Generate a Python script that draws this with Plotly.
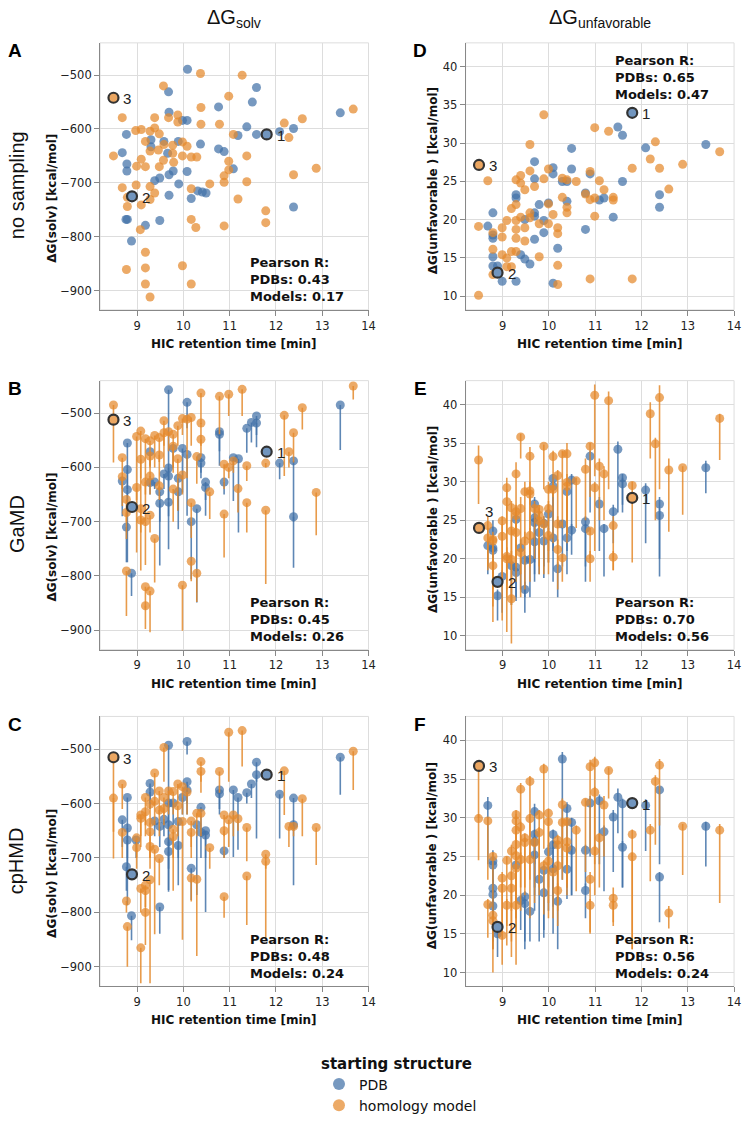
import plotly.graph_objects as go
from plotly.subplots import make_subplots

W, H = 747, 1121
BLUE = "#4272a8"
ORANGE = "#e4892c"
BLUE_LINE = "rgba(66,114,168,0.85)"
ORANGE_LINE = "rgba(228,137,44,0.85)"
BLUE_SOLID = "#7195be"
ORANGE_SOLID = "#eba661"

x_ticks = [9, 10, 11, 12, 13, 14]
solv_ticks = [-900, -800, -700, -600, -500]
unfav_ticks = [10, 15, 20, 25, 30, 35, 40]

# highlighted antibodies 1, 2, 3
hl_labels = ["1", "2", "3"]
hl_x = [11.8, 8.89, 8.49]

# ---- A: no sampling, dG solv  (x, y)
A_pdb = [(10.09, -489), (9.68, -531), (9.69, -569), (10.08, -584), (9.98, -584), (10.76, -559),
         (11.49, -550), (11.58, -523), (11.37, -596), (11.58, -610), (11.18, -612), (12.08, -605),
         (12.38, -599), (13.39, -570), (8.77, -610), (8.68, -644), (8.78, -665), (8.78, -678),
         (9.30, -620), (9.30, -633), (9.58, -623), (9.66, -645), (9.69, -685), (9.78, -678),
         (9.38, -696), (9.49, -691), (9.89, -623), (9.90, -702), (9.69, -723), (10.08, -679),
         (10.37, -628), (10.76, -637), (10.88, -642), (11.08, -674), (10.17, -729), (10.31, -715),
         (10.41, -717), (10.49, -719), (8.79, -768), (8.76, -768), (8.88, -808), (9.18, -779),
         (9.49, -770), (12.38, -745)]
A_model = [(8.49, -650), (8.68, -579), (8.68, -709), (8.79, -727), (8.79, -744), (8.77, -861),
           (8.99, -669), (8.98, -704), (8.97, -603), (9.09, -601), (9.09, -656), (9.09, -741),
           (9.07, -787), (9.18, -623), (9.18, -670), (9.18, -829), (9.18, -858), (9.18, -888),
           (9.28, -912), (9.28, -707), (9.28, -731), (9.28, -604), (9.28, -641), (9.38, -598),
           (9.38, -579), (9.48, -609), (9.57, -520), (9.46, -639), (9.48, -670), (9.57, -658),
           (9.38, -719), (9.58, -629), (9.68, -579), (9.77, -630), (9.77, -645), (9.79, -662),
           (9.88, -574), (9.88, -587), (9.98, -624), (10.08, -632), (9.98, -650), (9.98, -854),
           (10.17, -711), (10.17, -768), (10.17, -888), (10.27, -783), (10.17, -652), (10.29, -652),
           (10.37, -497), (10.38, -560), (10.38, -591), (10.57, -702), (10.78, -591), (10.88, -687),
           (10.88, -699), (10.88, -780), (10.98, -660), (10.98, -676), (10.98, -539), (11.08, -610),
           (11.18, -730), (11.27, -500), (11.37, -650), (11.37, -698), (11.78, -752), (11.78, -774),
           (12.18, -589), (12.28, -616), (12.38, -685), (12.57, -581), (12.87, -673), (13.67, -563)]
A_hl_y = [-610, -725, -542]

# ---- B: GaMD, dG solv  (x, y, low, high)
B_pdb = [(9.68, -457, -616, -457), (10.08, -480, -528, -480), (8.79, -555, -775, -555),
         (8.79, -604, -640, -604), (8.79, -641, -690, -641), (8.68, -625, -690, -625),
         (8.77, -710, -775, -710), (8.88, -795, -837, -795), (9.28, -571, -597, -571),
         (9.28, -628, -650, -628), (9.38, -627, -640, -627), (9.49, -645, -781, -645),
         (9.49, -666, -700, -666), (9.58, -612, -640, -612), (9.68, -601, -751, -601),
         (9.68, -664, -690, -664), (9.68, -616, -660, -616), (9.78, -565, -600, -565),
         (9.89, -620, -714, -620), (9.89, -645, -680, -645), (9.98, -565, -646, -565),
         (10.08, -576, -689, -576), (10.17, -700, -806, -700), (10.29, -676, -849, -676),
         (10.38, -582, -610, -582), (10.38, -592, -620, -592), (10.48, -627, -689, -627),
         (10.48, -637, -660, -637), (10.78, -534, -597, -534), (10.78, -539, -570, -539),
         (10.88, -627, -650, -627), (11.08, -582, -662, -582), (11.19, -584, -720, -584),
         (11.37, -528, -573, -528), (11.47, -517, -554, -517), (11.58, -505, -563, -505),
         (11.58, -518, -540, -518), (12.08, -592, -622, -592), (12.38, -588, -785, -588),
         (12.38, -691, -700, -691), (13.39, -485, -568, -485)]
B_model = [(8.49, -485, -591, -485), (8.68, -582, -671, -582), (8.68, -617, -640, -617),
           (8.77, -659, -732, -659), (8.77, -683, -700, -683), (8.77, -791, -874, -791),
           (8.99, -543, -757, -543), (8.99, -637, -660, -637), (9.08, -533, -790, -533),
           (9.08, -585, -620, -585), (9.08, -676, -700, -676), (9.08, -697, -720, -697),
           (9.18, -547, -700, -547), (9.18, -627, -650, -627), (9.18, -700, -780, -700),
           (9.18, -820, -860, -820), (9.18, -855, -898, -855), (9.28, -551, -600, -551),
           (9.28, -579, -620, -579), (9.28, -616, -650, -616), (9.28, -688, -720, -688),
           (9.28, -828, -904, -828), (9.38, -541, -600, -541), (9.38, -731, -812, -731),
           (9.48, -545, -590, -545), (9.48, -577, -640, -577), (9.48, -634, -660, -634),
           (9.58, -514, -560, -514), (9.58, -536, -600, -536), (9.68, -534, -570, -534),
           (9.78, -539, -600, -539), (9.78, -561, -610, -561), (9.78, -640, -700, -640),
           (9.88, -523, -560, -523), (9.88, -584, -680, -584), (9.98, -510, -540, -510),
           (9.98, -614, -650, -614), (9.98, -817, -901, -817), (10.08, -511, -620, -511),
           (10.17, -508, -560, -508), (10.17, -665, -730, -665), (10.17, -773, -810, -773),
           (10.29, -795, -848, -795), (10.29, -580, -630, -580), (10.38, -463, -520, -463),
           (10.38, -518, -560, -518), (10.38, -548, -580, -548), (10.57, -645, -695, -645),
           (10.78, -469, -539, -469), (10.88, -594, -640, -594), (10.88, -686, -766, -686),
           (10.98, -465, -505, -465), (10.98, -600, -620, -600), (11.08, -588, -610, -588),
           (11.18, -639, -683, -639), (11.27, -456, -505, -456), (11.37, -597, -625, -597),
           (11.37, -665, -720, -665), (11.78, -592, -600, -592), (11.78, -679, -815, -679),
           (12.18, -504, -616, -504), (12.28, -571, -600, -571), (12.38, -536, -591, -536),
           (12.57, -490, -530, -490), (12.87, -646, -725, -646), (13.67, -450, -475, -450)]
B_hl_y = [-571, -673, -512]

# ---- C: cpHMD, dG solv  (x, y, low, high)
C_pdb = [(9.68, -493, -762, -493), (10.08, -486, -510, -486), (8.68, -630, -680, -630),
         (8.79, -589, -787, -589), (8.79, -645, -700, -645), (8.79, -667, -720, -667),
         (8.77, -716, -760, -716), (8.88, -806, -851, -806), (8.98, -667, -700, -667),
         (9.28, -563, -600, -563), (9.28, -579, -610, -579), (9.38, -632, -660, -632),
         (9.49, -642, -680, -642), (9.49, -790, -839, -790), (9.58, -629, -660, -629),
         (9.68, -599, -640, -599), (9.68, -639, -680, -639), (9.68, -670, -759, -670),
         (9.68, -688, -720, -688), (9.78, -599, -640, -599), (9.89, -633, -700, -633),
         (9.89, -677, -750, -677), (9.98, -589, -620, -589), (10.08, -560, -600, -560),
         (10.08, -575, -620, -575), (10.17, -719, -777, -719), (10.29, -639, -768, -639),
         (10.38, -607, -660, -607), (10.38, -653, -700, -653), (10.48, -650, -799, -650),
         (10.48, -658, -700, -658), (10.78, -575, -610, -575), (10.78, -582, -620, -582),
         (10.88, -687, -700, -687), (11.08, -575, -698, -575), (11.18, -589, -685, -589),
         (11.37, -580, -600, -580), (11.47, -564, -590, -564), (11.58, -524, -560, -524),
         (11.58, -547, -664, -547), (12.08, -583, -664, -583), (12.38, -590, -750, -590),
         (12.38, -639, -650, -639), (13.39, -515, -584, -515)]
C_model = [(8.49, -590, -701, -590), (8.49, -515, -652, -515), (8.68, -564, -610, -564),
           (8.68, -653, -700, -653), (8.77, -779, -800, -779), (8.79, -826, -900, -826),
           (8.99, -663, -720, -663), (8.99, -681, -700, -681), (9.08, -621, -660, -621),
           (9.08, -627, -680, -627), (9.08, -756, -800, -756), (9.18, -589, -640, -589),
           (9.18, -615, -660, -615), (9.18, -760, -800, -760), (9.18, -800, -860, -800),
           (9.18, -750, -790, -750), (9.08, -865, -930, -865), (9.28, -635, -700, -635),
           (9.28, -652, -700, -652), (9.28, -679, -720, -679), (9.28, -601, -640, -601),
           (9.28, -740, -930, -740), (9.38, -544, -600, -544), (9.38, -596, -640, -596),
           (9.38, -684, -840, -684), (9.48, -577, -620, -577), (9.48, -612, -660, -612),
           (9.48, -701, -750, -701), (9.58, -497, -560, -497), (9.58, -589, -620, -589),
           (9.58, -609, -640, -609), (9.68, -577, -620, -577), (9.78, -578, -620, -578),
           (9.78, -647, -760, -647), (9.78, -661, -700, -661), (9.88, -564, -600, -564),
           (9.88, -604, -660, -604), (9.98, -569, -620, -569), (9.98, -633, -850, -633),
           (10.08, -579, -620, -579), (10.17, -632, -680, -632), (10.17, -653, -700, -653),
           (10.17, -737, -780, -737), (10.29, -739, -880, -739), (10.29, -618, -660, -618),
           (10.38, -618, -660, -618), (10.38, -523, -560, -523), (10.38, -541, -580, -541),
           (10.57, -681, -720, -681), (10.78, -541, -580, -541), (10.88, -621, -660, -621),
           (10.88, -650, -700, -650), (10.88, -771, -810, -771), (10.98, -469, -560, -469),
           (10.98, -630, -680, -630), (11.08, -621, -660, -621), (11.18, -628, -650, -628),
           (11.27, -466, -532, -466), (11.37, -644, -706, -644), (11.37, -733, -823, -733),
           (11.78, -693, -720, -693), (11.78, -706, -848, -706), (12.18, -540, -621, -540),
           (12.28, -642, -680, -642), (12.38, -642, -660, -642), (12.57, -591, -660, -591),
           (12.87, -644, -713, -644), (13.67, -504, -575, -504)]
C_hl_y = [-547, -730, -515]

# ---- D: no sampling, dG unfavorable  (x, y)
D_pdb = [(8.68, 19.15), (8.79, 20.88), (8.79, 17.99), (8.79, 17.56), (8.79, 15.14), (8.79, 13.93),
         (8.89, 13.93), (8.99, 11.95), (9.29, 11.95), (9.29, 23.25), (9.29, 22.82), (9.39, 15.4),
         (9.48, 14.84), (9.59, 14.19), (9.48, 20.0), (9.69, 27.57), (9.69, 25.33), (9.69, 20.88),
         (9.69, 20.45), (9.69, 17.43), (9.79, 21.96), (9.89, 19.89), (9.89, 18.29), (9.99, 22.18),
         (10.09, 26.79), (10.09, 25.97), (10.09, 11.69), (10.19, 16.26), (10.29, 24.98), (10.39, 24.98),
         (10.39, 22.39), (10.49, 29.3), (10.49, 26.62), (10.79, 23.47), (10.79, 18.72), (10.89, 25.97),
         (11.09, 22.56), (11.19, 22.82), (11.39, 20.32), (11.49, 32.1), (11.59, 31.02), (11.59, 24.98),
         (12.09, 29.38), (12.39, 23.25), (12.39, 21.61), (13.39, 29.81)]
D_model = [(8.48, 19.11), (8.68, 25.07), (8.79, 18.29), (8.79, 16.13), (8.79, 12.81), (8.99, 18.94),
           (8.99, 17.73), (8.99, 15.4), (9.09, 19.89), (9.09, 14.97), (9.09, 13.85), (9.19, 21.44),
           (9.19, 15.83), (9.19, 13.85), (9.29, 25.2), (9.29, 21.96), (9.29, 19.89), (9.29, 18.72),
           (9.29, 17.56), (9.29, 15.83), (9.39, 25.76), (9.39, 24.77), (9.39, 20.32), (9.48, 23.9),
           (9.48, 18.94), (9.48, 17.21), (9.59, 29.81), (9.59, 26.36), (9.59, 20.88), (9.59, 20.23),
           (9.69, 24.33), (9.79, 19.46), (9.79, 15.14), (9.89, 33.7), (9.89, 25.33), (9.99, 26.62),
           (9.99, 22.05), (9.99, 19.46), (10.09, 20.66), (10.19, 18.94), (10.19, 18.16), (10.19, 14.02),
           (10.19, 11.52), (10.29, 25.41), (10.29, 22.91), (10.39, 25.2), (10.39, 21.61), (10.39, 20.88),
           (10.59, 24.98), (10.79, 23.34), (10.89, 26.28), (10.89, 22.61), (10.89, 12.25), (10.99, 32.02),
           (10.99, 22.82), (10.99, 20.45), (11.09, 25.07), (11.19, 23.9), (11.29, 31.54), (11.39, 22.91),
           (11.39, 22.56), (11.8, 26.71), (11.8, 12.25), (12.19, 27.92), (12.3, 30.16), (12.39, 26.71),
           (12.59, 23.99), (12.89, 27.22), (13.69, 28.86), (8.48, 10.1)]
D_hl_y = [33.96, 13.07, 27.14]

# ---- E: GaMD, dG unfavorable  (x, y, low, high)
E_pdb = [(8.68, 21.7, 18.0, 22.5), (8.79, 23.6, 19.0, 25.0), (8.79, 21.4, 18.0, 22.5),
         (8.79, 21.1, 17.0, 22.0), (8.89, 15.2, 12.0, 16.0), (8.99, 17.7, 13.0, 18.5),
         (9.19, 19.1, 14.0, 20.0), (9.29, 25.1, 19.0, 26.0), (9.29, 18.9, 15.0, 19.5),
         (9.29, 18.2, 14.5, 19.0), (9.39, 21.4, 16.0, 22.5), (9.48, 19.8, 15.0, 20.5),
         (9.48, 16.0, 13.0, 17.0), (9.59, 19.9, 15.0, 21.0), (9.69, 27.1, 20.0, 28.0),
         (9.69, 25.3, 19.5, 26.5), (9.69, 24.7, 18.0, 25.5), (9.69, 22.2, 17.0, 23.0),
         (9.79, 23.4, 18.0, 24.5), (9.89, 22.3, 17.5, 23.0), (9.89, 24.6, 19.0, 25.5),
         (9.99, 25.8, 19.5, 27.0), (10.09, 30.4, 22.0, 31.0), (10.09, 29.4, 21.0, 30.0),
         (10.09, 22.7, 17.0, 23.5), (10.19, 18.7, 15.0, 19.5), (10.29, 24.5, 19.0, 25.0),
         (10.39, 28.7, 21.0, 29.5), (10.39, 22.7, 18.0, 23.5), (10.49, 23.7, 20.5, 24.5),
         (10.49, 30.2, 23.0, 31.0), (10.79, 24.8, 17.0, 25.5), (10.79, 23.9, 19.0, 24.5),
         (10.89, 33.3, 26.0, 34.0), (11.09, 27.1, 21.0, 28.0), (11.19, 23.9, 17.7, 24.5),
         (11.39, 26.1, 22.0, 27.0), (11.49, 34.2, 26.0, 35.2), (11.59, 30.5, 26.0, 31.0),
         (11.59, 29.7, 27.0, 30.5), (12.09, 28.9, 22.0, 29.8), (12.39, 27.1, 17.7, 28.0),
         (12.39, 25.6, 20.0, 26.5), (13.39, 31.8, 28.5, 32.7)]
E_model = [(8.48, 32.8, 27.1, 34.7), (8.68, 24.3, 19.0, 25.5), (8.68, 22.7, 18.5, 24.0),
           (8.79, 22.5, 13.8, 23.5), (8.79, 22.3, 16.0, 23.0), (8.79, 19.1, 11.8, 20.0),
           (8.99, 22.9, 17.0, 24.5), (8.99, 24.9, 12.0, 25.5), (9.09, 29.2, 20.0, 30.5),
           (9.09, 27.4, 16.0, 29.0), (9.09, 20.3, 15.0, 21.5), (9.09, 20.0, 10.5, 21.0),
           (9.19, 26.6, 20.0, 27.5), (9.19, 23.6, 14.0, 25.0), (9.19, 19.9, 16.0, 21.0),
           (9.19, 14.8, 9.0, 16.0), (9.29, 31.0, 22.0, 32.5), (9.29, 26.1, 19.0, 27.0),
           (9.29, 25.6, 20.0, 26.5), (9.29, 23.4, 17.0, 24.5), (9.39, 35.8, 33.0, 36.2),
           (9.39, 26.5, 18.0, 28.0), (9.39, 20.8, 15.0, 22.0), (9.48, 28.7, 22.0, 30.0),
           (9.48, 22.3, 16.0, 23.5), (9.59, 33.3, 27.0, 34.5), (9.59, 28.8, 21.0, 30.0),
           (9.59, 28.4, 19.0, 29.0), (9.59, 23.0, 17.0, 24.0), (9.69, 26.5, 20.0, 27.5),
           (9.79, 26.4, 19.0, 27.0), (9.79, 25.6, 18.0, 26.5), (9.79, 24.9, 20.0, 26.0),
           (9.89, 34.6, 29.0, 34.8), (9.89, 24.5, 18.0, 25.5), (9.99, 29.0, 21.0, 30.0),
           (9.99, 26.5, 19.5, 27.5), (9.99, 23.0, 18.0, 24.0), (10.09, 33.25, 28.0, 34.0),
           (10.09, 29.0, 22.0, 30.0), (10.19, 30.8, 24.0, 31.5), (10.19, 21.2, 16.0, 22.5),
           (10.19, 24.5, 19.0, 25.5), (10.29, 33.6, 24.0, 34.0), (10.29, 20.1, 17.0, 20.5),
           (10.39, 33.6, 23.0, 35.0), (10.39, 29.9, 22.0, 31.0), (10.39, 29.4, 24.0, 30.0),
           (10.59, 30.1, 24.0, 30.5), (10.79, 31.6, 25.0, 33.0), (10.89, 34.6, 28.0, 35.0),
           (10.89, 23.6, 20.0, 24.0), (10.89, 20.0, 17.0, 21.0), (10.99, 41.2, 30.7, 42.6),
           (10.99, 29.2, 21.0, 30.0), (11.09, 32.0, 25.0, 33.0), (11.19, 31.0, 25.0, 32.0),
           (11.29, 40.5, 29.0, 41.7), (11.39, 24.3, 18.5, 25.5), (11.39, 20.2, 18.5, 21.0),
           (11.8, 29.5, 19.5, 30.0), (12.19, 38.8, 33.0, 40.3), (12.3, 34.9, 25.0, 35.7),
           (12.39, 40.9, 29.0, 42.5), (12.59, 31.5, 23.5, 33.0), (12.89, 31.8, 25.7, 32.0),
           (13.69, 38.2, 32.8, 38.8)]
E_hl_y = [27.9, 17.0, 24.0]

# ---- F: cpHMD, dG unfavorable  (x, y, low, high)
F_pdb = [(8.68, 31.6, 24.0, 32.7), (8.79, 24.4, 15.0, 25.8), (8.79, 23.9, 14.0, 24.5),
         (8.79, 20.9, 14.5, 22.0), (8.79, 20.1, 15.0, 21.0), (8.79, 18.6, 13.0, 19.5),
         (8.89, 15.0, 12.0, 16.0), (9.29, 23.9, 17.0, 24.5), (9.39, 19.3, 15.5, 20.0),
         (9.48, 19.8, 14.0, 20.5), (9.48, 18.9, 13.0, 19.5), (9.59, 17.9, 14.0, 18.5),
         (9.69, 30.8, 24.0, 31.8), (9.69, 27.85, 20.0, 28.5), (9.69, 26.9, 21.0, 27.5),
         (9.69, 25.2, 18.0, 25.5), (9.79, 22.05, 14.0, 22.5), (9.89, 23.2, 15.5, 24.0),
         (9.89, 20.3, 14.5, 21.0), (9.99, 25.6, 18.0, 26.5), (10.09, 27.85, 20.0, 28.5),
         (10.09, 26.5, 18.5, 27.0), (10.09, 23.4, 15.0, 24.0), (10.19, 19.2, 13.0, 20.0),
         (10.29, 37.6, 22.0, 38.5), (10.39, 31.2, 21.0, 32.0), (10.39, 23.35, 19.5, 24.0),
         (10.49, 29.4, 20.0, 30.0), (10.49, 25.8, 20.0, 26.5), (10.79, 25.8, 21.0, 26.5),
         (10.79, 20.6, 17.0, 21.5), (10.89, 31.9, 25.0, 32.8), (11.09, 32.2, 24.0, 33.0),
         (11.19, 28.2, 20.5, 29.0), (11.39, 30.1, 23.0, 31.0), (11.49, 32.65, 28.0, 33.8),
         (11.59, 31.8, 21.0, 32.5), (11.59, 26.2, 21.0, 27.0), (12.09, 31.6, 25.7, 32.4),
         (12.39, 33.6, 24.0, 34.0), (12.39, 22.35, 16.5, 23.0), (13.39, 28.9, 23.7, 29.5)]
F_model = [(8.48, 29.9, 24.5, 30.5), (8.48, 36.7, 30.0, 37.0), (8.68, 29.6, 22.0, 30.0),
           (8.68, 18.8, 14.5, 19.5), (8.79, 25.0, 18.0, 25.5), (8.79, 17.4, 13.0, 18.0),
           (8.79, 16.7, 10.0, 17.5), (8.99, 14.8, 11.0, 15.5), (8.99, 20.9, 15.0, 21.5),
           (8.99, 22.2, 16.0, 23.0), (9.09, 24.5, 16.0, 25.0), (9.09, 18.7, 13.5, 19.5),
           (9.19, 25.7, 18.0, 26.5), (9.19, 22.5, 14.0, 23.0), (9.19, 20.9, 12.0, 21.5),
           (9.29, 30.4, 20.0, 31.0), (9.29, 29.6, 22.0, 30.5), (9.29, 28.4, 19.0, 29.0),
           (9.29, 26.55, 17.0, 27.0), (9.29, 25.1, 18.0, 25.5), (9.29, 23.5, 15.0, 24.0),
           (9.29, 18.7, 11.0, 19.5), (9.39, 33.7, 24.0, 34.5), (9.39, 28.8, 21.0, 29.5),
           (9.39, 24.6, 18.0, 25.5), (9.48, 27.4, 20.0, 28.0), (9.48, 26.8, 21.0, 27.5),
           (9.59, 34.7, 25.0, 35.4), (9.59, 29.9, 22.0, 30.5), (9.59, 24.6, 17.0, 25.5),
           (9.69, 26.8, 19.0, 27.5), (9.79, 30.35, 21.0, 31.0), (9.79, 28.1, 20.0, 28.8),
           (9.89, 36.3, 26.0, 37.0), (9.89, 23.8, 17.5, 24.5), (9.99, 30.6, 17.0, 31.2),
           (9.99, 29.5, 21.0, 30.0), (9.99, 24.4, 19.0, 25.0), (10.09, 23.0, 17.0, 23.5),
           (10.19, 27.1, 20.0, 27.8), (10.19, 26.5, 19.0, 27.0), (10.19, 23.8, 18.0, 24.5),
           (10.19, 20.6, 16.0, 21.5), (10.29, 31.7, 24.0, 32.5), (10.29, 29.4, 22.0, 30.0),
           (10.39, 29.5, 21.0, 30.0), (10.39, 26.9, 20.0, 27.5), (10.39, 26.1, 21.5, 27.0),
           (10.59, 28.4, 20.5, 29.0), (10.79, 32.0, 23.0, 32.5), (10.89, 36.6, 26.0, 37.5),
           (10.89, 22.05, 15.2, 23.0), (10.89, 18.7, 15.0, 19.5), (10.99, 37.1, 25.0, 37.9),
           (10.99, 33.3, 24.0, 34.0), (10.99, 25.7, 20.0, 26.5), (11.09, 27.4, 21.0, 28.0),
           (11.19, 31.65, 25.0, 32.8), (11.29, 36.1, 32.5, 36.5), (11.39, 19.6, 16.5, 21.0),
           (11.39, 18.7, 16.0, 19.5), (11.8, 27.85, 13.0, 28.5), (11.8, 24.95, 13.0, 25.5),
           (12.19, 28.4, 21.8, 29.2), (12.3, 34.7, 26.5, 35.5), (12.39, 36.8, 29.0, 37.6),
           (12.59, 17.7, 15.7, 18.6), (12.89, 28.9, 22.6, 29.2), (13.69, 28.4, 19.0, 29.2)]
F_hl_y = [31.9, 15.9, 36.7]

# Pearson R values (PDBs, Models)
pearson = {"A": (0.43, 0.17), "B": (0.45, 0.26), "C": (0.48, 0.24),
           "D": (0.65, 0.47), "E": (0.70, 0.56), "F": (0.56, 0.24)}

col_titles = ["ΔG<sub>solv</sub>", "ΔG<sub>unfavorable</sub>"]
row_titles = ["no sampling", "GaMD", "cpHMD"]
y_titles = ["ΔG(solv) [kcal/mol]", "ΔG(unfavorable ) [kcal/mol]"]
x_title = "HIC retention time [min]"


def px(x):
    return x / W


def py(y):
    return 1 - y / H


# pixel layout of the plot areas
col_px = [(101, 372), (470, 741)]
row_px = [(43, 311), (382, 652), (719, 990)]

fig = make_subplots(rows=3, cols=2)

panels = [
    ("A", 1, 1, A_pdb, A_model, A_hl_y, [BLUE_SOLID, BLUE_SOLID, ORANGE_SOLID], "bottom"),
    ("D", 1, 2, D_pdb, D_model, D_hl_y, [BLUE_SOLID, BLUE_SOLID, ORANGE_SOLID], "top"),
    ("B", 2, 1, B_pdb, B_model, B_hl_y, [BLUE_SOLID, BLUE_SOLID, ORANGE_SOLID], "bottom"),
    ("E", 2, 2, E_pdb, E_model, E_hl_y, [ORANGE_SOLID, BLUE_SOLID, ORANGE_SOLID], "bottom"),
    ("C", 3, 1, C_pdb, C_model, C_hl_y, [BLUE_SOLID, BLUE_SOLID, ORANGE_SOLID], "bottom"),
    ("F", 3, 2, F_pdb, F_model, F_hl_y, [BLUE_SOLID, BLUE_SOLID, ORANGE_SOLID], "bottom"),
]

annotations = []
shapes = []

for letter, r, c, pdb, mdl, hl_y, hl_col, stat_pos in panels:
    idx = (r - 1) * 2 + c
    xn = "x" if idx == 1 else f"x{idx}"
    yn = "y" if idx == 1 else f"y{idx}"
    for pts, color, lcol in ((pdb, BLUE, BLUE_LINE), (mdl, ORANGE, ORANGE_LINE)):
        err = None
        if len(pts[0]) == 4:
            err = dict(type="data", symmetric=False,
                       array=[p[3] - p[1] for p in pts],
                       arrayminus=[p[1] - p[2] for p in pts],
                       thickness=1.6, width=0, color=lcol)
        fig.add_trace(go.Scatter(
            x=[p[0] for p in pts], y=[p[1] for p in pts], mode="markers",
            marker=dict(size=9, color=color, opacity=0.72, line=dict(width=0)),
            error_y=err, showlegend=False, hoverinfo="skip"), row=r, col=c)
    fig.add_trace(go.Scatter(
        x=hl_x, y=hl_y, mode="markers",
        marker=dict(size=10, color=hl_col, line=dict(color="#333333", width=2.2)),
        showlegend=False, hoverinfo="skip"), row=r, col=c)
    for k, lab in enumerate(hl_labels):
        above = (letter == "E" and lab == "3")
        annotations.append(dict(
            x=hl_x[k], y=hl_y[k], xref=xn, yref=yn, text=lab, showarrow=False,
            xanchor="center" if above else "left", yanchor="middle",
            xshift=10 if above else 8, yshift=16 if above else -1,
            font=dict(family="Liberation Sans", size=15, color="#222")))

    x0, x1 = col_px[c - 1]
    y0, y1 = row_px[r - 1]
    fig.update_xaxes(domain=[px(x0), px(x1)], row=r, col=c)
    fig.update_yaxes(domain=[py(y1), py(y0)], row=r, col=c)
    shapes.append(dict(type="rect", xref=f"{xn} domain", yref=f"{yn} domain",
                       x0=0, x1=1, y0=0, y1=1, line=dict(color="#dddddd", width=1),
                       layer="below"))

    # Pearson R box
    pr_pdb, pr_mod = pearson[letter]
    txt = f"<b>Pearson R:<br>PDBs: {pr_pdb:.2f}<br>Models: {pr_mod:.2f}</b>"
    sx = x0 + 149
    if stat_pos == "top":
        cy = y0 + 35
    else:
        cy = y1 - 30
    annotations.append(dict(x=px(sx), y=py(cy), xref="paper", yref="paper", text=txt,
                            showarrow=False, xanchor="left", yanchor="middle", align="left",
                            font=dict(family="DejaVu Sans", size=13, color="#111")))

    # panel letter
    annotations.append(dict(x=px(x0 - 86 if c == 1 else x0 - 46), y=py(y0 + 8), xref="paper",
                            yref="paper", text=f"<b>{letter}</b>", showarrow=False,
                            xanchor="center", yanchor="middle",
                            font=dict(family="Liberation Sans", size=19, color="#000")))

    # axis titles
    annotations.append(dict(x=px((x0 + x1) / 2), y=py(y1 + 34), xref="paper", yref="paper",
                            text=f"<b>{x_title}</b>", showarrow=False, xanchor="center",
                            yanchor="middle",
                            font=dict(family="DejaVu Sans", size=12, color="#111")))
    annotations.append(dict(x=px(x0 - 48 if c == 1 else x0 - 33), y=py((y0 + y1) / 2 + (22 if c == 1 else 4)),
                            xref="paper", yref="paper", text=f"<b>{y_titles[c - 1]}</b>",
                            showarrow=False, textangle=-90, xanchor="center", yanchor="middle",
                            font=dict(family="DejaVu Sans", size=12, color="#111")))

# column titles
for c, t in enumerate(col_titles):
    x0, x1 = col_px[c]
    annotations.append(dict(x=px((x0 + x1) / 2), y=py(19), xref="paper",
                            yref="paper", text=t, showarrow=False, xanchor="center",
                            yanchor="middle",
                            font=dict(family="Liberation Sans", size=20, color="#111")))
# row titles
for r, t in enumerate(row_titles):
    y0, y1 = row_px[r]
    annotations.append(dict(x=px(17), y=py((y0 + y1) / 2 + 9), xref="paper", yref="paper",
                            text=t, showarrow=False, textangle=-90, xanchor="center",
                            yanchor="middle",
                            font=dict(family="Liberation Sans", size=20, color="#111")))

# legend entries
fig.add_trace(go.Scatter(x=[None], y=[None], mode="markers", name="PDB",
                         marker=dict(size=12, color=BLUE, opacity=0.72)))
fig.add_trace(go.Scatter(x=[None], y=[None], mode="markers", name="homology model",
                         marker=dict(size=12, color=ORANGE, opacity=0.72)))

fig.update_xaxes(range=[8.2, 14], tickvals=x_ticks, showgrid=True, gridcolor="#dddddd",
                 zeroline=False, showline=True, linecolor="#888888", ticks="outside",
                 ticklen=5, tickcolor="#888888",
                 tickfont=dict(family="DejaVu Sans", size=11.5, color="#222"))
fig.update_yaxes(showgrid=True, gridcolor="#dddddd", zeroline=False, showline=True,
                 linecolor="#888888", ticks="outside", ticklen=5, tickcolor="#888888",
                 tickfont=dict(family="DejaVu Sans", size=11.5, color="#222"))
for r in (1, 2, 3):
    fig.update_yaxes(range=[-936, -440], tickvals=solv_ticks, row=r, col=1)
    fig.update_yaxes(range=[8.2, 43.1], tickvals=unfav_ticks, row=r, col=2)

fig.update_layout(
    width=W, height=H, margin=dict(l=0, r=0, t=0, b=0),
    paper_bgcolor="white", plot_bgcolor="white",
    font=dict(family="DejaVu Sans", color="#111"),
    annotations=annotations, shapes=shapes,
    showlegend=True,
    legend=dict(x=px(322), y=py(1053), xanchor="left", yanchor="top",
                title=dict(text="<b>starting structure</b>",
                           font=dict(family="DejaVu Sans", size=15, color="#111")),
                font=dict(family="DejaVu Sans", size=14, color="#111"),
                itemsizing="trace", tracegroupgap=0, bgcolor="rgba(0,0,0,0)"),
)

# the page body has a default 8px margin; drop it so the figure fills the window
fig.write_html("out.html", config={"displayModeBar": False},
               post_script="document.body.style.margin = '0';")
